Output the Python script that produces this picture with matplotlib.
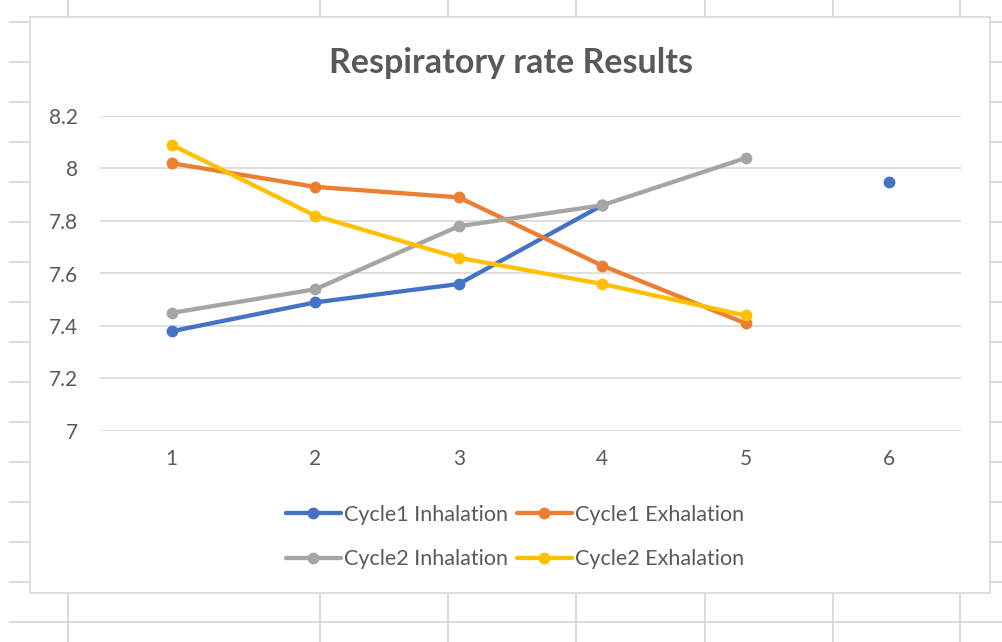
import numpy as np
import matplotlib.pyplot as plt
from matplotlib.lines import Line2D
from matplotlib.patches import Rectangle

plt.rcParams['font.family'] = ['Lato', 'DejaVu Sans']

categories = [1, 2, 3, 4, 5, 6]
cycle1_inh = [7.38, 7.49, 7.56, 7.86, np.nan, 7.95]
cycle1_exh = [8.02, 7.93, 7.89, 7.63, 7.41, np.nan]
cycle2_inh = [7.45, 7.54, 7.78, 7.86, 8.04, np.nan]
cycle2_exh = [8.09, 7.82, 7.66, 7.56, 7.44, np.nan]
series = [
    ("Cycle1 Inhalation", cycle1_inh, "#4472C4"),
    ("Cycle1 Exhalation", cycle1_exh, "#ED7D31"),
    ("Cycle2 Inhalation", cycle2_inh, "#A5A5A5"),
    ("Cycle2 Exhalation", cycle2_exh, "#FFC000"),
]

W, H = 1002, 642
fig = plt.figure(figsize=(W / 100, H / 100), dpi=100)
fig.patch.set_facecolor("white")

# spreadsheet grid behind the chart
grid_c = "#d4d4d4"
def px_line(x0, y0, x1, y1):
    fig.add_artist(Line2D([x0 / W, x1 / W], [1 - y0 / H, 1 - y1 / H],
                          transform=fig.transFigure, color=grid_c, lw=1.2, zorder=0))

for x in [68, 320, 448, 576, 705, 833, 960]:
    px_line(x, 0, x, 17)
    px_line(x, 593, x, H)
for y in [22, 62, 102, 142, 182, 222, 262, 302, 342, 382, 422, 462, 502, 542, 582]:
    px_line(10, y, 30, y)
    px_line(990, y, W, y)
px_line(10, 622, W, 622)

# chart area
fig.add_artist(Rectangle((30 / W, 1 - 593 / H), 960 / W, 576 / H, transform=fig.transFigure,
                         facecolor="white", edgecolor="#d9d9d9", lw=1.2, zorder=1))

ax = fig.add_axes([100 / W, 1 - 431 / H, 861 / W, 315 / H], zorder=2)
ax.set_facecolor("none")
for label, vals, color in series:
    ax.plot(categories, vals, color=color, lw=3.1, marker="o", ms=7.5,
            solid_capstyle="round", label=label)

ax.set_xlim(0.5, 6.5)
ax.set_ylim(7, 8.2)
ax.set_yticks([7, 7.2, 7.4, 7.6, 7.8, 8, 8.2])
ax.set_yticklabels(["7", "7.2", "7.4", "7.6", "7.8", "8", "8.2"])
ax.set_xticks(categories)
ax.grid(axis="y", color="#d9d9d9", lw=1.2)
ax.set_axisbelow(True)
for s in ax.spines.values():
    s.set_visible(False)
ax.tick_params(length=0, labelsize=15, labelcolor="#595959")
ax.tick_params(axis="y", pad=16)
ax.tick_params(axis="x", pad=13)

fig.text(511 / W, 1 - 63 / H, "Respiratory rate Results", ha="center", va="center",
         fontsize=24.5, fontweight="bold", color="#595959")

h, l = ax.get_legend_handles_labels()
order = [0, 2, 1, 3]
fig.legend([h[i] for i in order], [l[i] for i in order], ncol=2,
           loc="center", bbox_to_anchor=(515 / W, 1 - 537 / H), frameon=False,
           fontsize=15.5, labelcolor="#595959", handlelength=2.55, handletextpad=0.15,
           columnspacing=0.4, labelspacing=1.15)

fig.savefig("out.png", dpi=100)
